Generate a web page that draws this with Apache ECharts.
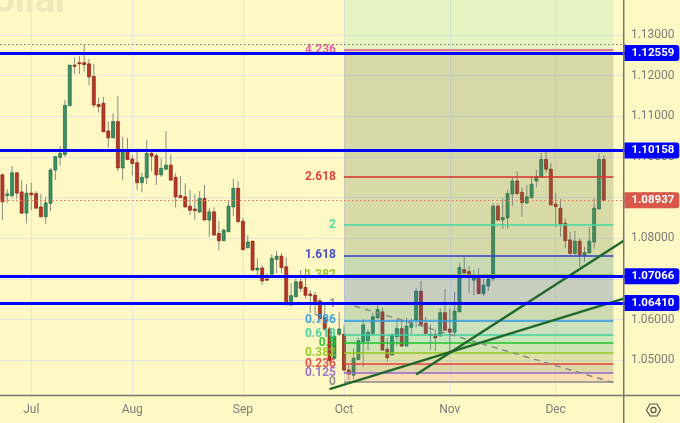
<!DOCTYPE html>
<html>
<head>
<meta charset="utf-8">
<style>html,body{margin:0;padding:0;background:#fef9c4}#c{width:680px;height:423px}</style>
<script src="https://cdn.jsdelivr.net/npm/echarts@6/dist/echarts.min.js"></script>
</head>
<body>
<div id="c"></div>
<script>
// Daily candles; index 0 is the first candle at the left edge
const opens = [1.0956,1.0905,1.0905,1.0961,1.0914,1.0862,1.0911,1.0910,1.0877,1.0853,1.0886,1.0968,1.0999,1.1006,1.1126,1.1226,1.1232,1.1232,1.1229,1.1198,1.1129,1.1132,1.1064,1.1047,1.1087,1.0973,1.1013,1.0995,1.0986,1.0937,1.0949,1.1009,1.1003,1.0956,1.0970,1.0980,1.0950,1.0905,1.0902,1.0879,1.0872,1.0865,1.0898,1.0845,1.0865,1.0812,1.0794,1.0816,1.0877,1.0923,1.0842,1.0777,1.0793,1.0722,1.0727,1.0700,1.0712,1.0748,1.0756,1.0730,1.0636,1.0656,1.0693,1.0679,1.0663,1.0660,1.0646,1.0605,1.0577,1.0505,1.0564,1.0564,1.0476,1.0463,1.0502,1.0545,1.0548,1.0566,1.0604,1.0619,1.0527,1.0513,1.0558,1.0578,1.0535,1.0581,1.0599,1.0670,1.0591,1.0561,1.0564,1.0560,1.0617,1.0577,1.0569,1.0619,1.0723,1.0718,1.0697,1.0704,1.0664,1.0683,1.0701,1.0879,1.0845,1.0850,1.0909,1.0941,1.0913,1.0887,1.0900,1.0941,1.0951,1.0994,1.0970,1.0884,1.0874,1.0837,1.0796,1.0763,1.0793,1.0759,1.0764,1.0791,1.0872,1.0994];
const highs = [1.0960,1.0921,1.0978,1.0963,1.0943,1.0933,1.0937,1.0916,1.0909,1.0902,1.0973,1.1002,1.1027,1.1140,1.1226,1.1245,1.1249,1.1277,1.1241,1.1229,1.1146,1.1148,1.1087,1.1107,1.1150,1.1050,1.1047,1.1005,1.1021,1.0962,1.1042,1.1017,1.1009,1.0997,1.1064,1.1006,1.0960,1.0953,1.0935,1.0919,1.0909,1.0916,1.0931,1.0874,1.0876,1.0843,1.0824,1.0894,1.0946,1.0941,1.0850,1.0808,1.0793,1.0751,1.0734,1.0714,1.0761,1.0769,1.0764,1.0753,1.0690,1.0701,1.0722,1.0726,1.0673,1.0668,1.0652,1.0636,1.0582,1.0569,1.0619,1.0586,1.0488,1.0529,1.0555,1.0601,1.0576,1.0617,1.0640,1.0630,1.0555,1.0566,1.0601,1.0601,1.0604,1.0603,1.0678,1.0695,1.0607,1.0588,1.0576,1.0628,1.0675,1.0628,1.0668,1.0739,1.0756,1.0732,1.0722,1.0726,1.0701,1.0701,1.0886,1.0886,1.0898,1.0920,1.0951,1.0965,1.0925,1.0931,1.0951,1.0968,1.1010,1.1015,1.0984,1.0912,1.0897,1.0849,1.0816,1.0818,1.0800,1.0779,1.0828,1.0898,1.1009,1.1005];
const lows = [1.0845,1.0887,1.0899,1.0896,1.0860,1.0837,1.0869,1.0874,1.0852,1.0835,1.0867,1.0943,1.0978,1.1000,1.1126,1.1204,1.1204,1.1210,1.1177,1.1122,1.1109,1.1062,1.1023,1.1047,1.0965,1.0943,1.0992,1.0954,1.0919,1.0913,1.0933,1.0965,1.0931,1.0951,1.0968,1.0943,1.0876,1.0900,1.0876,1.0857,1.0845,1.0861,1.0845,1.0804,1.0808,1.0771,1.0794,1.0816,1.0855,1.0837,1.0771,1.0775,1.0720,1.0705,1.0685,1.0695,1.0710,1.0714,1.0714,1.0633,1.0633,1.0656,1.0668,1.0652,1.0617,1.0611,1.0591,1.0572,1.0495,1.0500,1.0559,1.0473,1.0451,1.0454,1.0500,1.0484,1.0525,1.0562,1.0604,1.0525,1.0496,1.0511,1.0535,1.0533,1.0535,1.0564,1.0581,1.0582,1.0566,1.0525,1.0523,1.0558,1.0574,1.0520,1.0562,1.0619,1.0715,1.0664,1.0660,1.0663,1.0658,1.0671,1.0693,1.0843,1.0823,1.0824,1.0879,1.0906,1.0853,1.0884,1.0898,1.0925,1.0951,1.0961,1.0882,1.0828,1.0804,1.0776,1.0759,1.0759,1.0730,1.0742,1.0763,1.0775,1.0872,1.0890];
const closes = [1.0890,1.0909,1.0961,1.0911,1.0862,1.0911,1.0907,1.0874,1.0853,1.0887,1.0968,1.1001,1.1009,1.1127,1.1226,1.1224,1.1229,1.1227,1.1197,1.1128,1.1124,1.1062,1.1047,1.1087,1.0973,1.1013,1.0994,1.0984,1.0937,1.0950,1.1009,1.1002,1.0956,1.0972,1.0980,1.0943,1.0902,1.0900,1.0877,1.0869,1.0868,1.0898,1.0845,1.0865,1.0808,1.0794,1.0820,1.0879,1.0923,1.0841,1.0772,1.0791,1.0722,1.0727,1.0695,1.0698,1.0751,1.0756,1.0728,1.0644,1.0659,1.0693,1.0677,1.0660,1.0659,1.0644,1.0603,1.0577,1.0500,1.0559,1.0577,1.0476,1.0466,1.0505,1.0548,1.0587,1.0569,1.0607,1.0625,1.0525,1.0506,1.0562,1.0578,1.0535,1.0584,1.0592,1.0670,1.0588,1.0566,1.0564,1.0555,1.0617,1.0574,1.0569,1.0621,1.0728,1.0715,1.0711,1.0705,1.0664,1.0685,1.0700,1.0879,1.0845,1.0851,1.0910,1.0941,1.0910,1.0888,1.0902,1.0933,1.0951,1.0994,1.0970,1.0882,1.0878,1.0835,1.0794,1.0763,1.0793,1.0759,1.0765,1.0793,1.0874,1.0994,1.08937];

const fibLevels = ['4.236','2.618','2','1.618','1.382','1','0.786','0.618','0.5','0.382','0.236','0.125','0'];
const fibPrices = [1.1263,1.0951,1.0833,1.0758,1.0710,1.0639,1.0598,1.0564,1.0542,1.0519,1.0491,1.0469,1.0447];
const fibColors = ['#e0559f','#d92f2f','#45d6a0','#2f3cc8','#8fc31f','#8a8a8a','#2a9ae0','#3fd0a0','#1fc42a','#8fc920','#e04040','#9268cc','#8a8a8a'];
const fibZones = ['#e4f4c0','#d6d9a8','#d8dba8','#d6daa8','#c9dbb2','#c8d0c0','#cbdbb0','#cce2bd','#c6e6b8','#d0e5b3','#dfe1a8','#e0d8a8','#f8dfb0'];
const blueLevels = [1.12559,1.10158,1.07066,1.06410];
const lastPrice = 1.08937;
const highPrice = 1.1277;
const fibStartIndex = 71, fibEndIndex = 127;
const trendLines = [
  {from:[68,1.0429],to:[129,1.0651],color:'#22682c',width:2.5,ray:true},
  {from:[86,1.0465],to:[129,1.0793],color:'#22682c',width:2.5,ray:true},
  {from:[71,1.0641],to:[127,1.0445],color:'#8a8a86',width:1.5,dash:[6,5]}
];
const yTicks = [1.05,1.06,1.07,1.08,1.09,1.10,1.11,1.12,1.13];
const slotCount = 130;
const yMin = 1.04146, yMax = 1.13861;

// Weekday categories, starting Fri 23 Jun 2023
const categories = [];
(function(){
  let d = Date.UTC(2023,5,23);
  while (categories.length < slotCount) {
    const dt = new Date(d);
    const wd = dt.getUTCDay();
    if (wd !== 0 && wd !== 6) categories.push(dt.toISOString().slice(0,10));
    d += 86400000;
  }
})();
const monthNames = ['Jan','Feb','Mar','Apr','May','Jun','Jul','Aug','Sep','Oct','Nov','Dec'];
const isMonthStart = i => i > 0 && categories[i].slice(5,7) !== categories[i-1].slice(5,7);

const bg = '#fef9c4';
function tint(hex){
  const a = 0.25, base = [254,249,196];
  const t = [1,3,5].map(k => parseInt(hex.substr(k,2),16));
  const c = t.map((v,k) => Math.max(0,Math.min(255,Math.round((v-(1-a)*base[k])/a))));
  return 'rgba('+c.join(',')+','+a+')';
}

const zoneData = fibZones.map((col,k) => [
  {coord:[fibStartIndex, k===0 ? yMax : fibPrices[k-1]], itemStyle:{color:tint(col)}},
  {coord:[fibEndIndex, fibPrices[k]]}
]);
const fibLines = fibLevels.map((lv,k) => [
  {coord:[fibStartIndex,fibPrices[k]], lineStyle:{color:fibColors[k],width:1.6,type:'solid',opacity:1},
   label:{show:true,position:'start',distance:8,formatter:lv,color:fibColors[k],fontFamily:'Roboto',fontWeight:'bold',fontSize:12,opacity:.9}},
  {coord:[fibEndIndex,fibPrices[k]]}
]);
function tag(v,color){
  return {show:true,position:'end',distance:-1,formatter:v.toFixed(5),color:'#fff',fontFamily:'Roboto',fontWeight:'bold',fontSize:11.5,
    backgroundColor:color,padding:[2,5,2,7],lineHeight:12,borderRadius:[0,3,3,0]};
}

const option = {
  animation:false,
  backgroundColor:bg,
  grid:{left:-0.8,width:626.2,top:0,height:395,containLabel:false},
  xAxis:{
    type:'category',data:categories,boundaryGap:true,
    axisLine:{show:false},axisTick:{show:false,alignWithLabel:true},
    axisLabel:{interval:i=>isMonthStart(i),formatter:(v)=>monthNames[+v.slice(5,7)-1],color:'#7c7c7c',fontFamily:'Roboto',fontSize:12,margin:9,hideOverlap:false},
    splitLine:{show:true,alignWithLabel:true,interval:i=>isMonthStart(i),lineStyle:{color:'#e6e6de',width:1}}
  },
  yAxis:{
    type:'value',position:'right',min:yMin,max:yMax,scale:true,
    axisLine:{show:false},
    axisTick:{show:false,customValues:yTicks},
    axisLabel:{customValues:yTicks,formatter:v=>v.toFixed(5),color:'#7c7c7c',fontFamily:'Roboto',fontSize:12,margin:5.5},
    splitLine:{show:true,lineStyle:{color:'#e6e6de',width:1}}
  },
  graphic:[
    {type:'text',z:0,silent:true,style:{text:'Dollar',x:69,y:21,fontSize:38,fontWeight:'bold',fontFamily:'Roboto',textAlign:'right',textVerticalAlign:'bottom',fill:'#eee9ba'}},
    {type:'line',z:20,silent:true,shape:{x1:0,y1:395.5,x2:680,y2:395.5},style:{stroke:'#77776a',lineWidth:1.3}},
    {type:'line',z:20,silent:true,shape:{x1:623.7,y1:0,x2:623.7,y2:423},style:{stroke:'#77776a',lineWidth:1.5}},
    {type:'polygon',z:20,silent:true,shape:{points:[[646.5,410],[650,404],[657,404],[660.5,410],[657,416],[650,416]]},style:{fill:'none',stroke:'#55554c',lineWidth:1.2}},
    {type:'circle',z:20,silent:true,shape:{cx:653.5,cy:410,r:2.6},style:{fill:'none',stroke:'#55554c',lineWidth:1.2}}
  ],
  series:[
    {
      type:'custom',name:'candles',z:1,clip:false,silent:true,
      data:opens.map((_,i)=>[i]),encode:{x:0},
      renderItem:function(params,api){
        const i=params.dataIndex;
        const o=api.coord([i,opens[i]]), c=api.coord([i,closes[i]]);
        const h=api.coord([i,highs[i]]), l=api.coord([i,lows[i]]);
        const up=closes[i]>=opens[i];
        const x=o[0], top=Math.min(o[1],c[1]), ht=Math.max(Math.abs(o[1]-c[1]),1.2);
        return {type:'group',children:[
          {type:'line',shape:{x1:x,y1:h[1],x2:x,y2:l[1]},style:{stroke:'#8c8c82',lineWidth:1}},
          {type:'rect',shape:{x:x-1.5,y:top,width:3,height:ht},style:{fill:up?'#3f8f66':'#b5392b',stroke:up?'#1d6b44':'#8a1c10',lineWidth:0.7}}
        ]};
      }
    },
    {
      type:'line',name:'fib',z:3,data:[],silent:true,
      markArea:{silent:true,z:3,data:zoneData},
      markLine:{silent:true,z:4,symbol:'none',precision:5,data:fibLines}
    },
    {
      type:'custom',name:'trend',z:6,clip:false,silent:true,
      data:trendLines.map((_,i)=>[i]),encode:{x:0},
      renderItem:function(params,api){
        const t=trendLines[params.dataIndex];
        const a=api.coord(t.from), b=api.coord(t.to);
        let x2=b[0], y2=b[1];
        if(t.ray){const r=params.coordSys.x+params.coordSys.width-1.7; y2=a[1]+(b[1]-a[1])*(r-a[0])/(b[0]-a[0]); x2=r;}
        return {type:'line',shape:{x1:a[0],y1:a[1],x2:x2,y2:y2},style:{stroke:t.color,lineWidth:t.width,lineDash:t.dash||null}};
      }
    },
    {
      type:'line',name:'levels',z:7,data:[],silent:true,
      markLine:{silent:true,z:7,symbol:'none',precision:5,data:[
        {yAxis:highPrice,lineStyle:{color:'#77776a',type:[1.5,2.5],width:1},label:{show:false}},
        {yAxis:lastPrice,lineStyle:{color:'#e8755c',type:[1.5,2.5],width:1},label:tag(lastPrice,'#d9584a')}
      ].concat(blueLevels.map(v=>({yAxis:v,lineStyle:{color:'#0000ff',type:'solid',width:2.8},label:tag(v,'#0000ff')})))}
    }
  ]
};
const chart = echarts.init(document.getElementById('c'),null,{renderer:'canvas'});
chart.setOption(option);
</script>
</body>
</html>
